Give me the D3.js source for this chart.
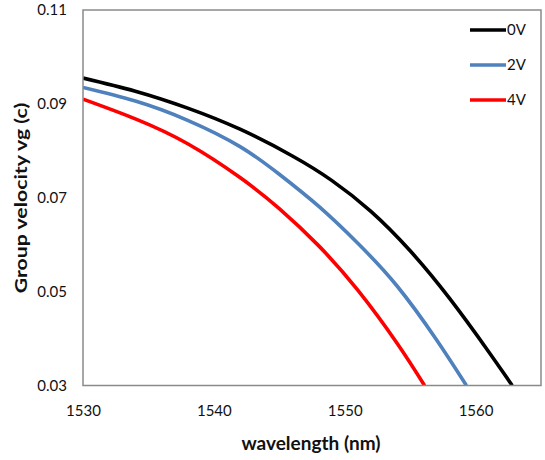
<!DOCTYPE html>
<html>
<head>
<meta charset="utf-8">
<script src="https://cdn.jsdelivr.net/npm/d3@7"></script>
<style>
  html, body { margin: 0; padding: 0; background: #fff; }
  svg { display: block; font-family: Lato, "Open Sans", sans-serif; }
</style>
</head>
<body>
<svg id="chart" width="545" height="460"></svg>
<script>
// Group velocity (in units of c) versus wavelength for three bias voltages
const wavelength0V = [1530, 1534, 1538, 1542, 1546, 1549, 1552, 1555, 1558, 1561, 1562.8];
const velocity0V   = [0.0955, 0.0927, 0.0891, 0.0846, 0.0789, 0.0737, 0.0671, 0.0587, 0.0486, 0.0372, 0.0300];

const wavelength2V = [1530, 1534, 1538, 1542, 1545, 1548, 1551, 1554, 1557, 1559.3];
const velocity2V   = [0.0935, 0.0906, 0.0865, 0.0809, 0.0750, 0.0682, 0.0603, 0.0512, 0.0398, 0.0300];

const wavelength4V = [1530, 1534, 1538, 1542, 1545, 1548, 1551, 1554, 1556.1];
const velocity4V   = [0.0910, 0.0868, 0.0815, 0.0743, 0.0677, 0.0598, 0.0503, 0.0390, 0.0300];

const seriesNames  = ["0V", "2V", "4V"];
const seriesColors = ["#000000", "#4f81bd", "#ff0000"];

const xTicks = [1530, 1540, 1550, 1560];
const yTicks = [0.03, 0.05, 0.07, 0.09, 0.11];

const series = [
  { name: seriesNames[0], color: seriesColors[0], x: wavelength0V, y: velocity0V },
  { name: seriesNames[1], color: seriesColors[1], x: wavelength2V, y: velocity2V },
  { name: seriesNames[2], color: seriesColors[2], x: wavelength4V, y: velocity4V }
];

const svg = d3.select("#chart");
const margin = { left: 83, right: 4, top: 10, bottom: 74.5 };
const W = 545, H = 460;

const x = d3.scaleLinear().domain([1530, 1565]).range([margin.left, W - margin.right]);
const y = d3.scaleLinear().domain([0.03, 0.11]).range([H - margin.bottom, margin.top]);

// x axis labels (no tick marks)
const xAxis = d3.axisBottom(x).tickValues(xTicks).tickSize(0).tickPadding(20)
  .tickFormat(d3.format("d"));
svg.append("g")
  .attr("transform", `translate(0,${y(0.03)})`)
  .call(xAxis)
  .call(g => g.select(".domain").remove())
  .call(g => g.selectAll("text").attr("font-size", 15).attr("fill", "#111")
    .attr("font-family", "Lato, 'Open Sans', sans-serif"));

// y axis labels
const yAxis = d3.axisLeft(y).tickValues(yTicks).tickSize(0).tickPadding(16)
  .tickFormat(d3.format(".2f"));
svg.append("g")
  .attr("transform", `translate(${x(1530)},0)`)
  .call(yAxis)
  .call(g => g.select(".domain").remove())
  .call(g => g.selectAll("text").attr("font-size", 15).attr("fill", "#111")
    .attr("font-family", "Lato, 'Open Sans', sans-serif"));

// curves
const line = d3.line()
  .x(d => x(d[0]))
  .y(d => y(d[1]))
  .curve(d3.curveNatural);

svg.append("clipPath").attr("id", "plotClip")
  .append("rect")
  .attr("x", x(1530)).attr("y", y(0.11))
  .attr("width", x(1565) - x(1530)).attr("height", y(0.03) - y(0.11));

svg.append("g").attr("clip-path", "url(#plotClip)")
  .selectAll("path")
  .data(series)
  .join("path")
  .attr("d", s => line(s.x.map((v, i) => [v, s.y[i]])))
  .attr("fill", "none")
  .attr("stroke", s => s.color)
  .attr("stroke-width", 3.6)
  .attr("stroke-linecap", "butt");

// plot frame
svg.append("rect")
  .attr("x", x(1530)).attr("y", y(0.11))
  .attr("width", x(1565) - x(1530)).attr("height", y(0.03) - y(0.11))
  .attr("fill", "none")
  .attr("stroke", "#8a8a8a")
  .attr("stroke-width", 1.5);

// legend
const legend = svg.append("g").attr("transform", "translate(470,30)");
const item = legend.selectAll("g")
  .data(series)
  .join("g")
  .attr("transform", (d, i) => `translate(0,${i * 35})`);
item.append("line")
  .attr("x1", 0).attr("x2", 36).attr("y1", 0).attr("y2", 0)
  .attr("stroke", d => d.color)
  .attr("stroke-width", 3.6);
item.append("text")
  .attr("x", 37).attr("y", 0).attr("dy", "0.36em")
  .attr("font-size", 15)
  .attr("fill", "#111")
  .text(d => d.name);

// axis titles
svg.append("text")
  .attr("x", 311).attr("y", 450)
  .attr("text-anchor", "middle")
  .attr("font-size", 19)
  .attr("font-weight", "bold")
  .attr("fill", "#111")
  .text("wavelength (nm)");

// the vertical title is drawn elongated along its reading direction
svg.append("text")
  .attr("transform", "translate(27,198) rotate(-90) scale(1.25,1)")
  .attr("text-anchor", "middle")
  .attr("font-size", 17)
  .attr("font-weight", "bold")
  .attr("fill", "#111")
  .text("Group velocity vg (c)");
</script>
</body>
</html>
